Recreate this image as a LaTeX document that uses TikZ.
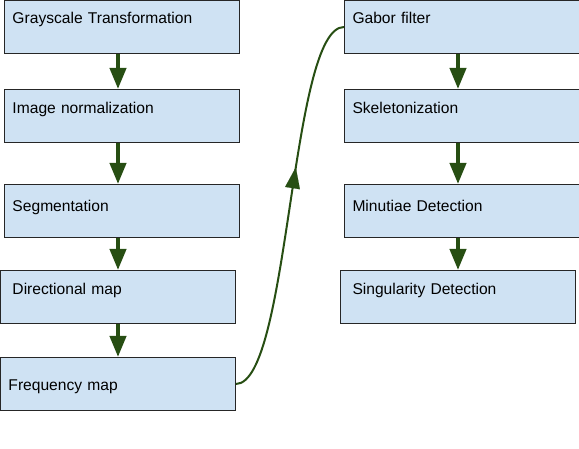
\documentclass[tikz,border=0pt]{standalone}
\usepackage{fontspec}
\setmainfont{Liberation Sans}
\usetikzlibrary{arrows.meta,decorations.markings}

\definecolor{boxblue}{HTML}{CFE2F3}
\definecolor{arrowgreen}{HTML}{274E13}

\begin{document}
\begin{tikzpicture}[x=1pt,y=-1pt,
        stage/.style={draw=black!85,fill=boxblue,line width=1pt,anchor=north west,
            minimum width=235pt,minimum height=53pt,inner ysep=0pt,inner xsep=8pt,
            text width=219pt,align=left,text height=#1,text depth=53pt-#1,
            font=\fontsize{15.6pt}{18pt}\selectfont},
        stage/.default=24pt,
        indent/.style={inner xsep=12pt,text width=211pt},
        flow/.style={draw=arrowgreen,line width=4pt,
            -{Triangle[width=16pt,length=21pt]}},
        jump/.style={draw=arrowgreen,line width=2pt,postaction={decorate},
            decoration={markings,mark=at position 0.6 with
              {\arrow[line width=0.1pt]{Triangle[width=15pt,length=21pt]}}}}]

  \useasboundingbox (0,0) rectangle (579,449);

  \node[stage=23pt] (1) at (4,0)   {Grayscale Transformation};
  \node[stage]      (2) at (4,89)  {Image normalization};
  \node[stage=27pt] (3) at (4,184) {Segmentation};
  \node[stage,indent] (4) at (0,270) {Directional map};
  \node[stage=33pt] (5) at (0,357) {Frequency map};

  \node[stage=23pt] (6) at (344,0)   {Gabor filter};
  \node[stage]      (7) at (344,89)  {Skeletonization};
  \node[stage=27pt] (8) at (344,184) {Minutiae Detection};
  \node[stage,indent] (9) at (340,270) {Singularity Detection};

  \path (1.south -| 5) edge[flow] (2.north -| 5)
        (2.south -| 5) edge[flow] (3.north -| 5)
        (3.south -| 5) edge[flow] (4.north)
        (4.south)      edge[flow] (5.north)
        (6.south -| 9) edge[flow] (7.north -| 9)
        (7.south -| 9) edge[flow] (8.north -| 9)
        (8.south -| 9) edge[flow] (9.north);

  \draw[jump] (5.east) .. controls (290,383) and (290,27) .. (6.west);

\end{tikzpicture}
\end{document}
